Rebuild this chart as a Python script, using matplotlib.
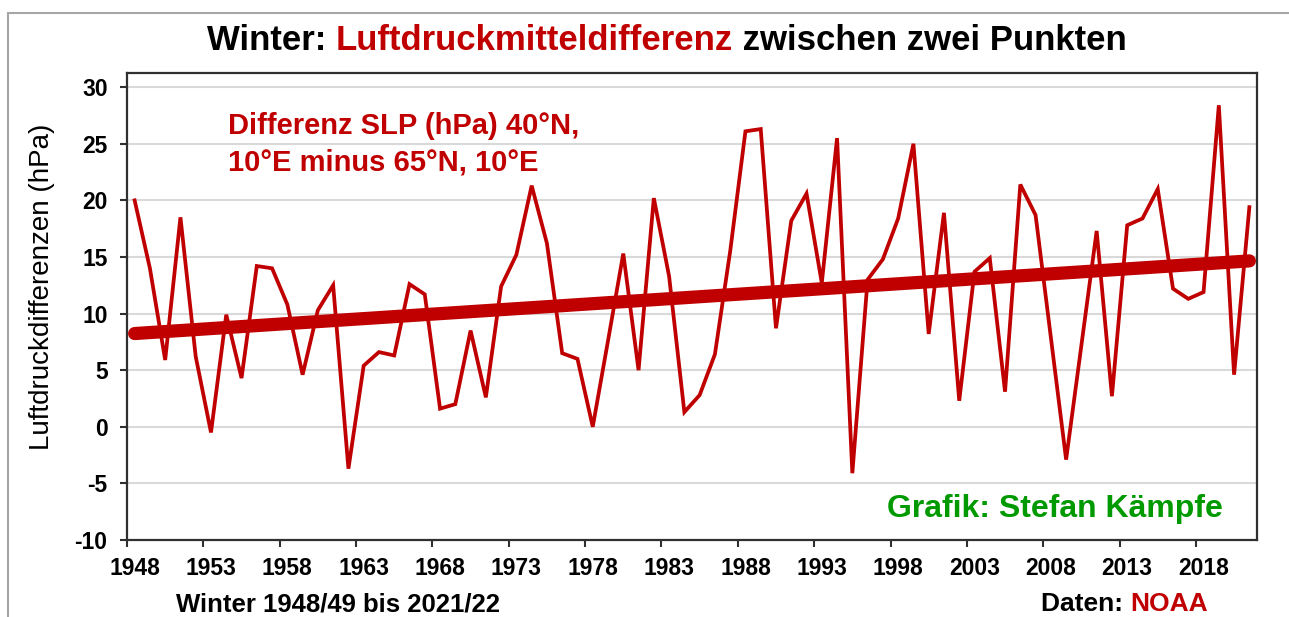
import matplotlib
matplotlib.use("Agg")
import matplotlib.pyplot as plt
import numpy as np
from matplotlib.offsetbox import TextArea, HPacker, AnchoredOffsetbox
from matplotlib.patches import Rectangle

# winter (DJF) mean SLP difference 40N,10E minus 65N,10E, hPa
years = list(range(1948, 2022))
slp_diff = [
    20.0, 14.0, 5.9, 18.5, 6.2, -0.5, 9.9, 4.3, 14.2, 14.0,
    10.8, 4.6, 10.3, 12.5, -3.7, 5.4, 6.6, 6.3, 12.6, 11.7,
    1.6, 2.0, 8.5, 2.6, 12.4, 15.2, 21.3, 16.2, 6.5, 6.0,
    0.0, 7.6, 15.3, 5.0, 20.2, 13.3, 1.3, 2.8, 6.4, 15.5,
    26.1, 26.3, 8.7, 18.2, 20.6, 12.7, 25.5, -4.1, 13.0, 14.8,
    18.4, 25.0, 8.2, 18.9, 2.3, 13.7, 14.9, 3.1, 21.4, 18.7,
    7.9, -2.9, 7.2, 17.3, 2.7, 17.8, 18.4, 21.0, 12.2, 11.3,
    11.9, 28.4, 4.6, 19.4,
]
label_years = list(range(1948, 2022, 5))
y_ticks = list(range(-10, 31, 5))

RED = "#c00000"
GREEN = "#009900"
FONT = "Liberation Sans"

plt.rcParams["font.family"] = [FONT, "DejaVu Sans"]

fig = plt.figure(figsize=(12.89, 6.17), dpi=100)
ax = fig.add_axes([127 / 1289, 1 - 540 / 617, 1130 / 1289, 467 / 617])

x = np.array(years)
y = np.array(slp_diff)
ax.plot(x, y, color=RED, lw=2.7, zorder=3, solid_joinstyle="miter")

# linear trend
k, d = np.polyfit(x, y, 1)
ax.plot(x[[0, -1]], k * x[[0, -1]] + d, color=RED, lw=9.5,
        solid_capstyle="round", zorder=4)

ax.set_xlim(1947.5, 2021.5)
ax.set_ylim(-10, 31.25)

# ticks between categories, labels on categories
ax.set_xticks(np.arange(1947.5, 2022, 5))
ax.set_xticklabels([])
ax.set_xticks(label_years, minor=True)
ax.set_xticklabels([str(v) for v in label_years], minor=True,
                   fontsize=16.5, fontweight="bold")
ax.tick_params(axis="x", which="major", direction="out", length=5,
               width=1.5, color="#303030")
ax.tick_params(axis="x", which="minor", length=0, pad=12)

ax.set_yticks(y_ticks)
ax.set_yticklabels([str(v) for v in y_ticks], fontsize=16.5, fontweight="bold")
ax.tick_params(axis="y", direction="out", length=5, width=1.5,
               color="#303030", pad=9)

for v in y_ticks[1:]:
    ax.axhline(v, color="#d9d9d9", lw=1.5, zorder=1)

for s in ax.spines.values():
    s.set_color("#303030")
    s.set_linewidth(1.6)

ax.set_ylabel("Luftdruckdifferenzen (hPa)", fontsize=20)
ax.yaxis.set_label_coords((55 - 127) / 1130, (540 - 287) / 467)

ax.text((228 - 127) / 1130, (540 - 112) / 467,
        "Differenz SLP (hPa) 40°N,\n10°E minus 65°N, 10°E",
        transform=ax.transAxes, color=RED, fontsize=21, fontweight="bold",
        linespacing=1.4, va="top", ha="left")
ax.text((1223 - 127) / 1130, (540 - 517) / 467, "Grafik: Stefan Kämpfe",
        transform=ax.transAxes, color=GREEN, fontsize=23, fontweight="bold",
        ha="right", va="baseline")


def colored_line(parts, size, loc_xy, align):
    boxes = [TextArea(t, textprops=dict(color=c, fontsize=size,
                                        fontweight="bold", family=FONT))
             for t, c in parts]
    pack = HPacker(children=boxes, align="baseline", pad=0, sep=0)
    ab = AnchoredOffsetbox(loc=align, child=pack, pad=0, frameon=False,
                           bbox_to_anchor=loc_xy,
                           bbox_transform=fig.transFigure, borderpad=0)
    fig.add_artist(ab)


colored_line([("Winter: ", "black"), ("Luftdruckmitteldifferenz", RED),
              (" zwischen zwei Punkten", "black")],
             25, (667 / 1289, 1 - 40 / 617), "center")
colored_line([("Daten: ", "black"), ("NOAA", RED)],
             19, (1208 / 1289, 1 - 604 / 617), "center right")
fig.text(176 / 1289, 1 - 604 / 617, "Winter 1948/49 bis 2021/22",
         fontsize=18.5, fontweight="bold", ha="left", va="center")

# outer frame of the graphic, cut off at the right and bottom
fig.add_artist(Rectangle((8 / 1289, -0.1), 1.2, 1.1 - 13 / 617,
                         transform=fig.transFigure, fill=False,
                         edgecolor="#a6a6a6", lw=1.5))

fig.savefig("out.png", dpi=100)
